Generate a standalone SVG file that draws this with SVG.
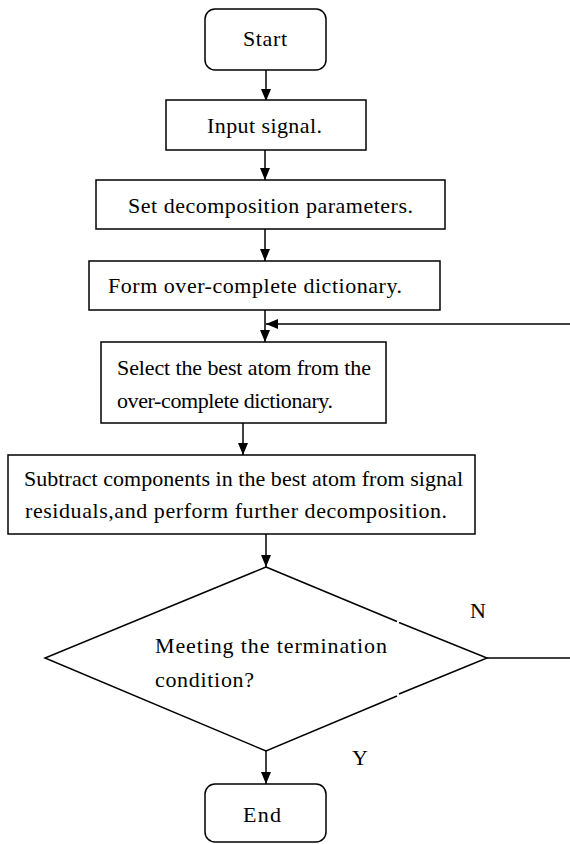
<svg xmlns="http://www.w3.org/2000/svg" width="570" height="844" viewBox="0 0 570 844">
  <style>
    .box { fill: #fff; stroke: #000; stroke-width: 1.5; }
    .wire { fill: none; stroke: #000; stroke-width: 1.5; stroke-linejoin: miter; }
    .lbl { font-family: "Liberation Serif", "Times New Roman", serif; font-size: 22px; fill: #000; }
  </style>
  <defs>
    <marker id="arrow" markerUnits="userSpaceOnUse" markerWidth="12" markerHeight="10" refX="12" refY="5" orient="auto">
      <path d="M0,0 L12,5 L0,10 Z" fill="#000"/>
    </marker>
  </defs>
  <rect width="570" height="844" fill="#fff"/>

  <!-- connectors -->
  <g id="connectors">
    <line class="wire" x1="266" y1="70" x2="266" y2="101" marker-end="url(#arrow)"/>
    <line class="wire" x1="265" y1="150" x2="265" y2="180" marker-end="url(#arrow)"/>
    <line class="wire" x1="265" y1="229" x2="265" y2="261" marker-end="url(#arrow)"/>
    <line class="wire" x1="265" y1="310" x2="265" y2="342" marker-end="url(#arrow)"/>
    <line class="wire" x1="571" y1="324" x2="266" y2="324" marker-end="url(#arrow)"/>
    <line class="wire" x1="243" y1="423" x2="243" y2="455" marker-end="url(#arrow)"/>
    <line class="wire" x1="266" y1="534" x2="266" y2="567" marker-end="url(#arrow)"/>
    <line class="wire" x1="266" y1="751" x2="266" y2="784" marker-end="url(#arrow)"/>
    <line class="wire" x1="487" y1="658" x2="571" y2="658"/>
    <text class="lbl" x="470" y="618">N</text>
    <text class="lbl" x="352" y="765">Y</text>
  </g>

  <g id="start">
    <rect class="box" x="205" y="9" width="121" height="61" rx="10"/>
    <text class="lbl" x="243" y="46" textLength="44">Start</text>
  </g>

  <g id="input">
    <rect class="box" x="166" y="100" width="200" height="50"/>
    <text class="lbl" x="207" y="133" textLength="115">Input signal.</text>
  </g>

  <g id="params">
    <rect class="box" x="96" y="180" width="349" height="49"/>
    <text class="lbl" x="128" y="213" textLength="285">Set decomposition parameters.</text>
  </g>

  <g id="dictionary">
    <rect class="box" x="89" y="261" width="351" height="49"/>
    <text class="lbl" x="108" y="293" textLength="294">Form over-complete dictionary.</text>
  </g>

  <g id="select">
    <rect class="box" x="101" y="342" width="285" height="81"/>
    <text class="lbl" x="117" y="375" textLength="254">Select the best atom from the</text>
    <text class="lbl" x="117" y="408" textLength="216">over-complete dictionary.</text>
  </g>

  <g id="subtract">
    <rect class="box" x="8" y="455" width="467" height="79"/>
    <text class="lbl" x="24" y="486" textLength="439">Subtract components in the best atom from signal</text>
    <text class="lbl" x="25" y="518" textLength="422">residuals,and perform further decomposition.</text>
  </g>

  <g id="termination">
    <path class="wire" d="M266,567 L397,621.5 M399,622.5 L487,658 L399,694 M397,696 L266,751 L45,658 L266,567"/>
    <text class="lbl" x="155" y="653" textLength="232">Meeting the termination</text>
    <text class="lbl" x="155" y="687" textLength="99">condition?</text>
  </g>

  <g id="end">
    <rect class="box" x="205" y="784" width="121" height="58" rx="10"/>
    <text class="lbl" x="243" y="822" textLength="38">End</text>
  </g>
</svg>
